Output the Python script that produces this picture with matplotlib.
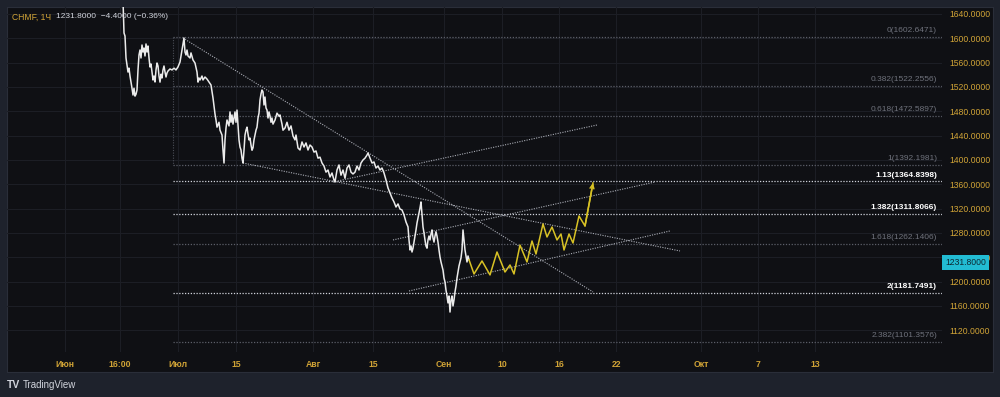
import matplotlib
matplotlib.use("Agg")
import matplotlib.pyplot as plt
from matplotlib.transforms import blended_transform_factory

plt.rcParams['font.family'] = ['Liberation Sans', 'DejaVu Sans']

# CHMF 1h close, x = position on the time scale
hist_t = [123, 124, 125, 126, 127, 128, 129, 130, 131, 132, 133, 134, 135, 136, 137, 138, 139, 140,
          141, 142, 143, 144, 145, 146, 147, 148, 149, 150, 151, 152, 153, 154, 155, 156, 157, 158,
          159, 160, 161, 162, 163, 164, 165, 166, 167, 168, 170, 172, 174, 176, 178, 180, 182, 183,
          184, 185, 186, 187, 188, 190, 191, 193, 195, 197, 198, 199, 200, 202, 203, 205, 207, 209,
          211, 213, 215, 216, 217, 219, 220, 222, 223, 224, 225, 226, 227, 229, 230, 231, 232, 233,
          234, 235, 236, 237, 238, 239, 240, 241, 242, 243, 244, 245, 246, 247, 248, 249, 250, 251,
          252, 253, 254, 255, 256, 257, 258, 259, 260, 261, 262, 263, 264, 265, 266, 267, 268, 269,
          270, 271, 272, 273, 275, 277, 279, 280, 282, 283, 285, 287, 289, 291, 293, 295, 296, 298,
          300, 302, 304, 306, 308, 310, 312, 314, 316, 318, 320, 322, 324, 326, 328, 330, 332, 334,
          335, 337, 339, 341, 343, 345, 347, 349, 351, 353, 355, 357, 359, 361, 363, 365, 367, 368,
          370, 372, 374, 376, 378, 380, 382, 384, 386, 388, 390, 392, 394, 396, 398, 400, 402, 404,
          406, 408, 409, 410, 411, 412, 413, 414, 415, 416, 417, 418, 419, 420, 421, 422, 423, 424,
          425, 426, 427, 428, 429, 430, 431, 432, 433, 434, 435, 436, 437, 438, 439, 440, 441, 442,
          443, 444, 445, 446, 447, 448, 449, 450, 451, 452, 453, 454, 455, 456, 457, 458, 459, 460,
          461, 462, 463, 464, 465, 466, 467, 468, 469]
hist_p = [1663, 1608.8, 1603.8, 1567.7, 1556, 1544.6, 1551, 1538, 1528, 1518, 1506.8, 1518, 1505, 1508,
          1515, 1548, 1572.6, 1580.8, 1567.7, 1589, 1577.5, 1584, 1571, 1590.7, 1577.5, 1587.4, 1567.7,
          1552.9, 1557.8, 1544.6, 1531.5, 1538, 1528.2, 1548, 1559.4, 1554.5, 1538, 1528, 1541, 1534.8,
          1548, 1554.5, 1544.6, 1536.4, 1543, 1546.3, 1549.6, 1548, 1551, 1548, 1553, 1561, 1580.8,
          1590.7, 1600.5, 1577.5, 1572.6, 1580.8, 1571, 1567.7, 1576, 1564.4, 1559.4, 1544.6, 1528,
          1534.8, 1531.5, 1538, 1531.5, 1536.4, 1533, 1528, 1523.3, 1502, 1475.6, 1465.7, 1454, 1462,
          1449, 1441, 1416, 1395, 1433, 1452.6, 1465.7, 1456, 1479, 1462, 1474, 1459, 1469, 1479, 1462,
          1482, 1457.5, 1433, 1421.3, 1416.4, 1403, 1395, 1416, 1441, 1449, 1454, 1442.7, 1433, 1436,
          1424.6, 1416, 1420, 1433, 1441, 1449, 1454, 1469, 1477, 1498.6, 1508.5, 1515, 1512, 1490.4,
          1503.5, 1485.5, 1482, 1469, 1479, 1472.3, 1462, 1469, 1459, 1465.7, 1477, 1472, 1474, 1459,
          1449, 1452.6, 1462, 1449, 1456, 1439.4, 1433, 1441, 1419.7, 1416.4, 1429.6, 1421.3, 1428,
          1416.4, 1424.6, 1421.3, 1413, 1414.8, 1403, 1404.6, 1395, 1390, 1380, 1383.5, 1372, 1378.6,
          1367, 1363.8, 1383.5, 1391.8, 1375, 1383.5, 1370, 1386.8, 1391.8, 1380, 1377, 1380, 1390,
          1383.5, 1395, 1400, 1403, 1408, 1411.5, 1403, 1395, 1396.7, 1386.8, 1390, 1383.5, 1386.8,
          1378.6, 1367, 1354, 1345.7, 1337.5, 1331, 1322.7, 1327.7, 1319.4, 1317.8, 1309.6, 1298, 1290,
          1268.5, 1252, 1258.6, 1248.7, 1255, 1265, 1275, 1285, 1296.4, 1304.6, 1312.8, 1321, 1331,
          1309.6, 1290, 1280, 1268.5, 1258.6, 1255, 1268.5, 1275, 1268.5, 1278.3, 1285, 1271.7, 1265,
          1275, 1282, 1275, 1265, 1252, 1240.5, 1232.3, 1225.7, 1219, 1206, 1199.4, 1186, 1176.4, 1165,
          1176.4, 1150, 1169.8, 1176.4, 1160, 1169.8, 1183, 1192.8, 1206, 1216, 1225.7, 1232.3, 1238.9,
          1252, 1285, 1268.5, 1252, 1242.2, 1232.3, 1242.2, 1236]

# drawn forecast path
fc_t = [469, 474, 482, 490, 497, 505, 510, 514, 520, 527, 532, 536, 543, 547, 552, 557, 561, 564,
        569, 573, 579, 585, 593]
fc_p = [1236, 1212.6, 1234, 1211, 1248.7, 1215.8, 1227.4, 1212.6, 1260, 1232.3, 1266.8, 1245.4,
        1294.8, 1273.4, 1289.8, 1268.5, 1278.3, 1252, 1278.3, 1263.5, 1307.9, 1291.5, 1362.2]

# fibonacci extension
fib_levels = ['0', '0.382', '0.618', '1', '1.13', '1.382', '1.618', '2', '2.382']
fib_prices = [1602.6471, 1522.2556, 1472.5897, 1392.1981, 1364.8398, 1311.8066, 1262.1406,
              1181.7491, 1101.3576]
fib_bright = ['1.13', '1.382', '2']
fib_start = 173

# trend lines: (t0, p0, t1, p1)
trend_lines = [
    (183, 1600.5, 593, 1183.0),
    (243, 1395.0, 680, 1250.4),
    (333, 1363.8, 597, 1457.5),
    (393, 1268.5, 655, 1363.8),
    (409, 1184.6, 670, 1283.3),
]

time_ticks = [65, 120, 178, 236, 313, 373, 444, 502, 559, 616, 701, 758, 815]
time_labels = ['Июн', '16:00', 'Июл', '15', 'Авг', '15', 'Сен', '10', '16', '22', 'Окт', '7', '13']
price_ticks = list(range(1120, 1641, 40))
last_price = 1231.8

BG_OUT = '#1e222c'
BG = '#0f1014'
GRID = '#1c1e25'
GOLD = '#d0a336'
GREY = '#6f727c'
W, H = 1000, 397

fig = plt.figure(figsize=(W / 100, H / 100), dpi=100, facecolor=BG_OUT)

# dark chart panel behind everything
panel = fig.add_axes([7 / W, 1 - 372 / H, 986 / W, 365 / H], zorder=-5)
panel.set_facecolor(BG)
panel.set_xticks([])
panel.set_yticks([])
for s in panel.spines.values():
    s.set_color('#2a2e39')
    s.set_linewidth(0.8)

ax = fig.add_axes([7 / W, 1 - 352 / H, 935 / W, 345 / H], zorder=1)
ax.set_facecolor('none')
ax.set_xlim(7, 942)
ax.set_ylim(1084.3, 1651.5)
for s in ax.spines.values():
    s.set_visible(False)

ax.set_xticks(time_ticks)
ax.set_xticklabels(time_labels)
ax.set_yticks(price_ticks)
ax.set_yticklabels([f'{v:.4f}' for v in price_ticks])
ax.yaxis.tick_right()
ax.tick_params(axis='y', length=0, pad=5, labelsize=6.2, labelcolor=GOLD)
ax.tick_params(axis='x', length=0, pad=5.5, labelsize=6.2, labelcolor=GOLD)
for lab in ax.get_xticklabels():
    lab.set_fontweight('bold')
ax.grid(True, color=GRID, lw=0.8)
ax.set_axisbelow(True)

# fib levels
for lvl, pr in zip(fib_levels, fib_prices):
    bright = lvl in fib_bright
    col = '#d1d4dc' if bright else '#5c5f69'
    ax.plot([fib_start, 942], [pr, pr], color=col, lw=0.9, ls=(0, (1, 1.3)), zorder=2)
    ax.annotate(f'{lvl}({pr:.4f})', xy=(937, pr), xytext=(0, 2), textcoords='offset points',
                ha='right', va='bottom', fontsize=6,
                color='#ffffff' if bright else GREY,
                fontweight='bold' if bright else 'normal', zorder=4)
ax.plot([fib_start, fib_start], [fib_prices[0], fib_prices[3]], color='#4a4d56', lw=0.8,
        ls=(0, (1, 1.3)), zorder=2)

# trend lines
for t0, p0, t1, p1 in trend_lines:
    ax.plot([t0, t1], [p0, p1], color='#a9acb5', lw=0.8, ls=(0, (1, 1.2)), zorder=2)

# price and forecast
ax.plot(hist_t, hist_p, color='#ebebeb', lw=1.1, zorder=5)
ax.plot(fc_t, fc_p, color='#d8c225', lw=1.1, zorder=5)
ax.annotate('', xy=(fc_t[-1], fc_p[-1]), xytext=(fc_t[-2], fc_p[-2]),
            arrowprops=dict(arrowstyle='->', color='#d8c225', lw=1.1, shrinkA=0, shrinkB=0,
                            mutation_scale=7), zorder=5)

# last price tag
tr = blended_transform_factory(ax.transAxes, ax.transData)
ax.text(1.0 + 3 / 935, last_price, f'{last_price:.4f}', transform=tr, ha='left', va='center',
        fontsize=6.2, color='#0d2a33', clip_on=False, zorder=6,
        bbox=dict(boxstyle='square,pad=0.35', fc='#22bcd3', ec='none'))

# header
fig.text(12 / W, 1 - 17 / H, 'CHMF, 1Ч', color=GOLD, fontsize=6.2, va='center', ha='left')
fig.text(56 / W, 1 - 17 / H, '1231.8000  −4.4000 (−0.36%)', color='#d1d4dc', fontsize=6,
         va='center', ha='left')

# footer logo
fig.text(7 / W, 1 - 385 / H, 'TV', color='#d1d4dc', fontsize=7.5, fontweight='heavy',
         va='center', ha='left')
fig.text(23 / W, 1 - 385 / H, 'TradingView', color='#d1d4dc', fontsize=7, va='center', ha='left')

fig.savefig('out.png', dpi=100, facecolor=BG_OUT)
